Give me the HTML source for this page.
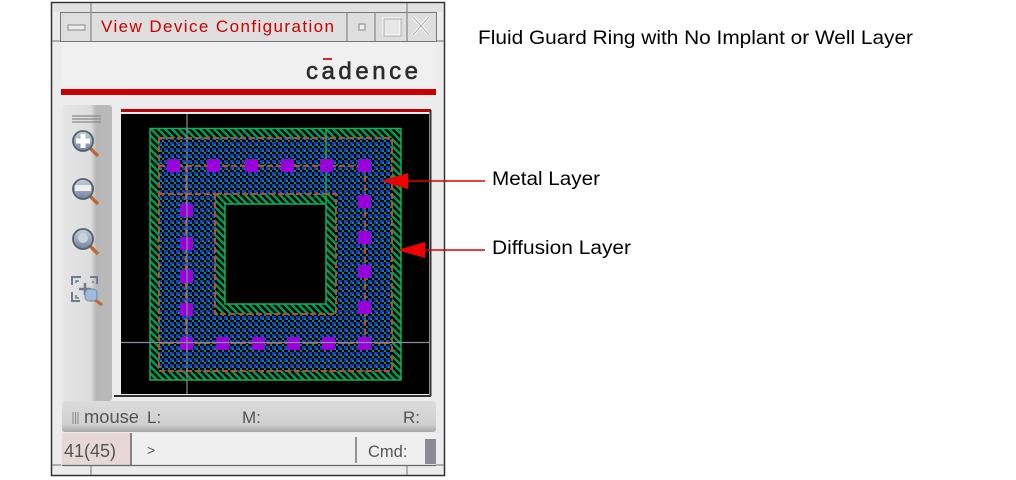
<!DOCTYPE html>
<html><head><meta charset="utf-8"><style>html,body{margin:0;padding:0;background:#fff}svg{display:block}text{font-family:"Liberation Sans",sans-serif}</style></head><body>
<svg width="1016" height="480" viewBox="0 0 1016 480" xmlns="http://www.w3.org/2000/svg">
<defs>
<pattern id="d" width="7" height="7" patternUnits="userSpaceOnUse" x="150" y="128">
<rect width="7" height="7" fill="#000"/>
<path d="M-2 -2L9 9M-2 5L2 9M5 -2L9 2" stroke="#009a50" stroke-width="2.600" fill="none"/>
</pattern>
<pattern id="m" width="6" height="6" patternUnits="userSpaceOnUse" x="150" y="128">
<rect width="6" height="6" fill="#000"/>
<path d="M2 4h2v2h-2zM4 2h2v2h-2z" fill="#0f2cd8" shape-rendering="crispEdges"/>
<path d="M0 0h2v2h-2zM4 4h2v2h-2z" fill="#0a8a70" shape-rendering="crispEdges"/>
<path d="M2 2h2v2h-2z" fill="#0a5a9a" shape-rendering="crispEdges"/>
</pattern>
<linearGradient id="tb" x1="0" x2="1" y1="0" y2="0"><stop offset="0" stop-color="#e6e6e6"/><stop offset=".58" stop-color="#dcdcdc"/><stop offset=".68" stop-color="#b8b8b8"/><stop offset="1" stop-color="#bababa"/></linearGradient>
<linearGradient id="st" x1="0" x2="0" y1="0" y2="1"><stop offset="0" stop-color="#dcdcdc"/><stop offset=".75" stop-color="#d0d0d0"/><stop offset="1" stop-color="#a8a8a8"/></linearGradient>
<linearGradient id="gl" x1="0" x2="0" y1="0" y2="1"><stop offset="0" stop-color="#c8d0dc"/><stop offset="1" stop-color="#70869f"/></linearGradient>
<g id="lens"><line x1="6" y1="6" x2="15" y2="15" stroke="#c06a30" stroke-width="3.500"/><circle cx="0" cy="0" r="10" fill="url(#gl)" stroke="#56606e" stroke-width="1.800"/></g>
</defs>

<rect x="51.500" y="2.500" width="393" height="473" fill="#ececec" stroke="#333" stroke-width="1.500"/>
<rect x="53" y="4" width="390" height="8" fill="#e2e2e2"/>
<path d="M91 3V12M407 3V12M91 465V475M407 465V475M52 41H61M436 41H444M52 465H61M436 465H444" stroke="#888" stroke-width="1.200"/>
<rect x="60.500" y="12.500" width="376" height="29" fill="#dedede" stroke="#777"/>
<path d="M91 12V41M347 12V41M375 12V41M407 12V41" stroke="#888" stroke-width="1.200"/>
<rect x="68" y="25" width="17" height="5" fill="#ececec" stroke="#888"/>
<rect x="359" y="24" width="6" height="6" fill="#eee" stroke="#888"/>
<rect x="383" y="18" width="17" height="17" fill="#e8e8e8" stroke="#fff"/>
<rect x="384" y="19" width="17" height="17" fill="none" stroke="#aaa"/>
<path d="M413 17L429 35M429 17L413 35" stroke="#fff" stroke-width="3"/>
<path d="M413 17L429 35M429 17L413 35" stroke="#aaa" stroke-width="1"/>
<text x="101" y="32" font-size="17" fill="#cc0000" textLength="233" lengthAdjust="spacing">View Device Configuration</text>

<rect x="62" y="42" width="374" height="47" fill="#f0f0f0"/>
<rect x="61" y="89" width="375" height="6" fill="#cc0000"/>
<rect x="62" y="95" width="374" height="306" fill="#ececec"/>
<text x="306" y="79" font-size="24" fill="#2c2c2c" stroke="#2c2c2c" stroke-width=".6" textLength="112" lengthAdjust="spacing">cadence</text>
<rect x="323" y="58" width="9" height="2" fill="#c03030"/>

<rect x="62" y="105" width="50" height="296" rx="3" fill="url(#tb)"/>
<path d="M72 116H101M72 119H101M72 122H101" stroke="#8a8a8a" stroke-width="1.200"/>
<use href="#lens" x="83" y="141"/><path d="M76 141H90M83 134V148" stroke="#fff" stroke-width="5"/>
<use href="#lens" x="83" y="189"/><path d="M75 188H91" stroke="#eee" stroke-width="6"/>
<use href="#lens" x="83" y="239"/><circle cx="83" cy="238" r="5" fill="#ccd3dc"/>
<path d="M72 285V277H81M90 277H97V284M72 292V301H80" fill="none" stroke="#6f7d8f" stroke-width="2"/>
<path d="M76 283V281H79M76 295V298H79M93 281V283" fill="none" stroke="#6f7d8f" stroke-width="1.500"/>
<path d="M79 289H91M85 283V295" stroke="#6f7d8f" stroke-width="2.500"/>
<line x1="94" y1="299" x2="102" y2="305" stroke="#c06a30" stroke-width="3"/>
<rect x="85" y="289" width="12" height="12" rx="4" fill="#9fbcdf" stroke="#70869f"/>

<rect x="121" y="109" width="310" height="3" fill="#c00000"/>
<rect x="121" y="114" width="308" height="280" fill="#000"/>
<path d="M430.500 110V396M114 396H431" stroke="#333" stroke-width="2" fill="none"/>

<path fill="url(#d)" fill-rule="evenodd" d="M150 128H401V380H150ZM225 204V304H326V204Z"/>
<path fill="url(#m)" fill-rule="evenodd" d="M159 138H392V371H159ZM215 194V314H336V194Z"/>
<path d="M150 128.500H401V380H150ZM225 204H326V304H225ZM326 128V204" fill="none" stroke="#10b060" stroke-width="1.500"/>
<path d="M159 138H392V371H159ZM215 194H336V314H215Z" fill="none" stroke="#c04a24" stroke-width="2" stroke-dasharray="6 3"/>
<path d="M159 166H365V343M159 194H215M186 166V343M159 343H392" fill="none" stroke="#c04a24" stroke-width="2" stroke-dasharray="6 3"/>
<g fill="#9a00dc">
<rect x="167" y="159" width="13" height="13"/><rect x="207" y="159" width="13" height="13"/><rect x="245" y="159" width="13" height="13"/><rect x="281" y="159" width="13" height="13"/><rect x="320" y="159" width="13" height="13"/><rect x="358" y="159" width="13" height="13"/>
<rect x="358" y="195" width="13" height="13"/><rect x="358" y="231" width="13" height="13"/><rect x="358" y="265" width="13" height="13"/><rect x="358" y="301" width="13" height="13"/>
<rect x="180" y="204" width="13" height="13"/><rect x="180" y="237" width="13" height="13"/><rect x="180" y="270" width="13" height="13"/><rect x="180" y="303" width="13" height="13"/>
<rect x="180" y="337" width="13" height="13"/><rect x="216" y="337" width="13" height="13"/><rect x="252" y="337" width="13" height="13"/><rect x="287" y="337" width="13" height="13"/><rect x="322" y="337" width="13" height="13"/><rect x="358" y="337" width="13" height="13"/>
</g>
<path d="M187 114V394M121 342.500H429" stroke="#8a8a9a" stroke-width="1.200"/>

<rect x="62" y="401" width="374" height="31" rx="3" fill="url(#st)"/>
<path d="M73 412V424M75.500 412V424M78 412V424" stroke="#888" stroke-width="1"/>
<text x="84" y="423" font-size="18" fill="#555" textLength="55" lengthAdjust="spacingAndGlyphs">mouse</text>
<text x="147" y="423" font-size="17" fill="#555">L:</text>
<text x="242" y="423" font-size="17" fill="#555">M:</text>
<text x="403" y="423" font-size="17" fill="#555">R:</text>
<rect x="62" y="433" width="374" height="32" fill="#efefef"/>
<rect x="62" y="433" width="69" height="32" fill="#e6d8d4"/>
<path d="M131 433V465" stroke="#666" stroke-width="1.500"/>
<path d="M356 437V463" stroke="#777" stroke-width="1.500"/>
<path d="M62 465.500H436" stroke="#666" stroke-width="1.200"/>
<text x="64" y="457" font-size="18" fill="#555">41(45)</text>
<text x="147" y="455" font-size="14" fill="#555">&gt;</text>
<text x="368" y="457" font-size="16.500" fill="#555">Cmd:</text>
<rect x="425" y="439" width="11" height="25" fill="#8a8a92"/>

<path d="M408 181H485" stroke="#e00000" stroke-width="1.500"/>
<path d="M425 250H485" stroke="#e00000" stroke-width="1.500"/>
<polygon points="381,181 408,173 408,189" fill="#f00000"/>
<polygon points="397,250 425,242 425,258" fill="#f00000"/>

<text x="478" y="44" font-size="19.500" fill="#000" textLength="435" lengthAdjust="spacingAndGlyphs">Fluid Guard Ring with No Implant or Well Layer</text>
<text x="492" y="185" font-size="19.500" fill="#000" textLength="108" lengthAdjust="spacingAndGlyphs">Metal Layer</text>
<text x="492" y="254" font-size="19.500" fill="#000" textLength="139" lengthAdjust="spacingAndGlyphs">Diffusion Layer</text>
</svg>
</body></html>
